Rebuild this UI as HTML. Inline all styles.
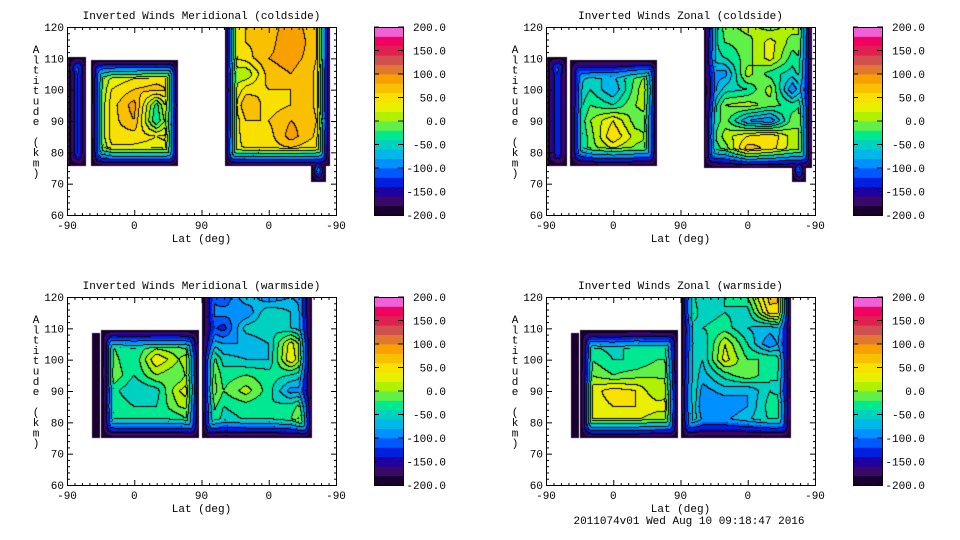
<!DOCTYPE html>
<html><head><meta charset="utf-8">
<style>
body{margin:0;background:#fff;width:960px;height:540px;overflow:hidden;position:relative;font-family:"Liberation Mono",monospace;}
canvas{position:absolute;}
svg{position:absolute;left:0;top:0;}
.t{font-family:"Liberation Mono",monospace;font-size:11px;fill:#000;}
</style></head>
<body>
<svg id="s" width="960" height="540"></svg>
<script>
// column positions are degrees along the axis (0 = -90 left ... 360 = -90 right), step 30
const colDeg=[0,30,60,90,120,150,180,210,240,270,300,330,360];
const rowAlt=[120,115,110,105,100,95,90,85,80,75,70];
const titles=["Inverted Winds Meridional (coldside)","Inverted Winds Zonal (coldside)","Inverted Winds Meridional (warmside)","Inverted Winds Zonal (warmside)"];
const xTickLabels=["-90","0","90","0","-90"];
const yTickLabels=[60,70,80,90,100,110,120];
const cbLabels=["-200.0","-150.0","-100.0","-50.0","0.0","50.0","100.0","150.0","200.0"];
const gridTL=[
[0,0,0,0,0,0,0,40,60,70,90,70,0],
[0,0,0,0,0,0,0,40,60,70,100,70,0],
[0,0,20,20,20,0,0,30,50,80,90,70,0],
[-100,-50,20,30,40,40,0,20,0,70,80,60,0],
[-100,-50,40,60,70,50,0,-10,50,60,60,60,0],
[-100,-50,50,90,-30,100,0,-10,80,50,60,60,0],
[-100,-50,50,80,-40,70,0,-10,60,60,80,70,0],
[-100,-50,50,50,40,50,0,10,50,50,90,60,0],
[-100,-50,30,30,30,30,0,30,40,50,50,40,0],
[-100,-50,30,30,30,30,0,30,40,50,50,40,0],
[-100,-50,30,30,30,30,0,30,40,50,50,40,0]];
const gridTR=[
[0,0,0,0,0,0,0,-100,-10,10,-10,10,0],
[0,0,0,0,0,0,0,-80,-20,-10,30,-10,0],
[0,0,-50,-50,-30,0,0,-60,-40,-10,30,-30,0],
[-100,-80,-60,-60,-20,20,0,-80,-90,10,-30,-50,0],
[-100,-80,-40,-80,-10,60,0,-130,-50,-40,10,-100,0],
[-100,-80,-20,-40,0,20,0,-110,0,10,-10,-30,0],
[-100,-80,0,40,-10,-10,0,-60,-10,-80,-100,-10,0],
[-100,-80,-10,60,10,-10,0,-60,10,40,60,10,0],
[-100,-80,-10,10,-10,-10,0,-50,-20,80,50,10,0],
[-100,-80,-10,10,-10,-10,0,-50,-20,80,50,10,0],
[-100,-80,-10,10,-10,-10,0,-50,-20,80,50,10,0]];
const gridBL=[
[0,0,0,0,0,0,-80,-120,-60,-100,-80,-100,0],
[0,0,0,0,0,0,-100,-90,-100,-40,-60,-100,0],
[-200,-200,-30,-30,-30,-30,-100,-130,-50,-40,-60,-80,0],
[-200,-200,-20,-40,-20,-20,-60,-80,-80,-60,30,-60,0],
[-200,-200,-10,-40,40,0,40,-50,-60,-60,40,-50,0],
[-200,-200,0,-40,0,-20,50,-30,-20,-30,-40,-70,0],
[-200,-200,-30,-60,-50,20,50,-20,10,-30,-90,-80,0],
[-200,-200,-20,-40,-40,0,20,-40,-30,-40,-30,10,0],
[-200,-200,-40,-40,-40,-40,0,-50,-40,-40,-20,60,0],
[-200,-200,-40,-40,-40,-40,0,-50,-40,-40,-20,60,0],
[-200,-200,-40,-40,-40,-40,0,-50,-40,-40,-20,60,0]];
const gridBR=[
[0,0,0,0,0,0,0,-60,-40,-20,70,60,0],
[0,0,0,0,0,0,0,-50,-40,-50,50,50,0],
[-200,-200,-60,-60,-60,-60,-60,-40,-30,-60,-70,-40,0],
[-200,-200,-40,-50,-30,-40,-40,-60,20,-40,-100,-40,0],
[-200,-200,-20,-40,-40,-20,-20,-60,30,-20,-20,-50,0],
[-200,-200,0,-20,-10,0,-10,-70,-30,0,-40,-30,0],
[-200,-200,30,50,40,0,30,-90,-70,-80,-40,-60,0],
[-200,-200,30,40,40,30,30,-100,-100,-80,-30,-10,0],
[-200,-200,20,20,20,0,0,-80,-80,-60,-40,-40,0],
[-200,-200,20,20,20,0,0,-80,-80,-60,-40,-40,0],
[-200,-200,20,20,20,0,0,-80,-80,-60,-40,-40,0]];
// data regions: [deg0, deg1, alt0, alt1]
const regionsTL=[[2,26,75.5,110.5],[32,149,75.5,109.5],[211,352,75.5,130],[327,346,70.5,78]];
const regionsTR=[[2,28,75.5,110.5],[32,149,75.5,109.5],[211,356,75,130],[329,348,70.5,78]];
const regionsBL=[[33,44,75,108.5],[46,177,75,109.5],[181,328,75,130]];
const regionsBR=[[33,44,75,108.5],[46,177,75,109.5],[181,328,75,130]];
const palette=['#1a0030','#3a0868','#2000a0','#0020e0','#0058ff','#0090ff','#00b8e8','#00d0c0','#00e890','#60f048','#b0f000','#e8f000','#f8e000','#f8c000','#f8a000','#e07830','#d05050','#e02050','#f00060','#f060d8'];

const panels=[
 {x:67,y:27,grid:gridTL,reg:regionsTL,title:titles[0],name:'meridional-coldside'},
 {x:546,y:27,grid:gridTR,reg:regionsTR,title:titles[1],name:'zonal-coldside'},
 {x:67,y:297,grid:gridBL,reg:regionsBL,title:titles[2],name:'meridional-warmside'},
 {x:546,y:297,grid:gridBR,reg:regionsBR,title:titles[3],name:'zonal-warmside'}];
const PW=269,PH=188;
const xs=d=>d*PW/360, ys=a=>(120-a)*PH/60;
const svg=document.getElementById('s');
const NS='http://www.w3.org/2000/svg';
function mk(tag,attrs,parent){const e=document.createElementNS(NS,tag);for(const k in attrs)e.setAttribute(k,attrs[k]);(parent||svg).appendChild(e);return e;}
function hex(c){return [parseInt(c.substr(1,2),16),parseInt(c.substr(3,2),16),parseInt(c.substr(5,2),16)];}
const pal=palette.map(hex);
function sample(grid,deg,alt){
 let cx=deg/30;cx=Math.max(0,Math.min(11.999,cx));
 let ry=(120-alt)/5;ry=Math.max(0,Math.min(9.999,ry));
 const i=Math.floor(cx),j=Math.floor(ry),fx=cx-i,fy=ry-j;
 const a=grid[j][i],b=grid[j][i+1],c=grid[j+1][i],d=grid[j+1][i+1];
 return (a*(1-fx)+b*fx)*(1-fy)+(c*(1-fx)+d*fx)*fy;
}
panels.forEach(p=>{
 const cv=document.createElement('canvas');cv.width=PW;cv.height=PH;
 cv.style.left=p.x+'px';cv.style.top=p.y+'px';
 
 
 document.body.insertBefore(cv,svg);
 const ctx=cv.getContext('2d');const im=ctx.createImageData(PW,PH);
 const lev=new Int16Array(PW*PH).fill(-1);
 const ring=new Uint8Array(PW*PH);
 for(let py=0;py<PH;py++)for(let px=0;px<PW;px++){
  let best=-1;
  p.reg.forEach(r=>{
   const x0=xs(r[0]),x1=xs(r[1]),y0=ys(r[3]),y1=ys(r[2]);
   const cx=px+0.5,cy=py+0.5;
   if(cx>=x0&&cx<=x1&&cy>=y0&&cy<=y1){
    const tx=Math.min((cx-x0)/13,(x1-cx)/13,1),ty=Math.min((cy-y0)/19,(y1-cy)/19,1);
    const t=Math.max(0.02,1-Math.pow(Math.pow(1-tx,4)+Math.pow(1-ty,4),0.25));
    if(t>best)best=t;}
  });
  if(best<0)continue;
  const deg=(px+0.5)*360/PW,alt=120-(py+0.5)*60/PH;
  const v=sample(p.grid,deg,alt);
  const val=-200+(v+200)*best;
  lev[py*PW+px]=Math.max(0,Math.min(19,Math.floor((val+200)/20)));
  ring[py*PW+px]=best<0.97?1:0;
 }
 for(let py=0;py<PH;py++)for(let px=0;px<PW;px++){
  const k=py*PW+px,l=lev[k];if(l<0)continue;
  let col=pal[l];
  const r=px+1<PW?lev[k+1]:-1,d=py+1<PH?lev[k+PW]:-1;
  const edge=(r>=0&&r!==l)||(d>=0&&d!==l);
  if(edge&&(!ring[k]||l%2===0))col=[0,0,0];
  im.data[k*4]=col[0];im.data[k*4+1]=col[1];im.data[k*4+2]=col[2];im.data[k*4+3]=255;
 }
 ctx.putImageData(im,0,0);
 const f=mk('rect',{x:p.x+0.5,y:p.y+0.5,width:PW,height:PH,fill:'none',stroke:'#000','stroke-width':1});
 
 for(let a=60;a<=120;a+=2){const y=p.y+0.5+ys(a);const L=(a%10===0)?6:3;
  mk('line',{x1:p.x,x2:p.x+L,y1:y,y2:y,stroke:'#000'});mk('line',{x1:p.x+PW-L+1,x2:p.x+PW+1,y1:y,y2:y,stroke:'#000'});}
 yTickLabels.forEach(a=>{const t=mk('text',{x:p.x-3,y:p.y+ys(a)+4,'text-anchor':'end',class:'t'});t.textContent=a;
  });
 for(let d=0;d<=360;d+=10){const x=p.x+0.5+xs(d);const L=(d%90===0)?6:3;
  mk('line',{x1:x,x2:x,y1:p.y+PH+1,y2:p.y+PH+1-L,stroke:'#000'});mk('line',{x1:x,x2:x,y1:p.y,y2:p.y+L,stroke:'#000'});}
 xTickLabels.forEach((s,i)=>{const t=mk('text',{x:p.x+xs(i*90),y:p.y+PH+14,'text-anchor':'middle',class:'t'});t.textContent=s;
  });
 const xt=mk('text',{x:p.x+PW/2,y:p.y+PH+27,'text-anchor':'middle',class:'t'});xt.textContent='Lat (deg)';
 
 const tt=mk('text',{x:p.x+PW/2,y:p.y-8,'text-anchor':'middle',class:'t'});tt.textContent=p.title;
 
 const yt=mk('text',{x:p.x-31,y:p.y+24,class:'t','text-anchor':'middle'});
 
 'Altitude (km)'.split('').forEach((c,i)=>{const ts=mk('tspan',{x:p.x-31,y:p.y+26+i*10.3},yt);ts.textContent=c===' '?'\u00a0':c;});
 const cbx=p.x+307,cbh=PH;
 palette.forEach((c,i)=>{const r=mk('rect',{x:cbx,y:p.y+cbh-(i+1)*cbh/20,width:29,height:cbh/20+0.4,fill:c});
  });
 mk('rect',{x:cbx+0.5,y:p.y+0.5,width:29,height:cbh,fill:'none',stroke:'#000'});
 cbLabels.forEach((s,i)=>{const y=p.y+cbh-i*cbh/8;
  mk('line',{x1:cbx,x2:cbx+5,y1:y,y2:y,stroke:'#000'});mk('line',{x1:cbx+24,x2:cbx+30,y1:y,y2:y,stroke:'#000'});
  const t=mk('text',{x:cbx+72,y:y+4,'text-anchor':'end',class:'t'});t.textContent=s;
  });
});
const ft=mk('text',{x:689,y:524,'text-anchor':'middle',class:'t'});ft.textContent='2011074v01 Wed Aug 10 09:18:47 2016';

</script>
</body></html>
